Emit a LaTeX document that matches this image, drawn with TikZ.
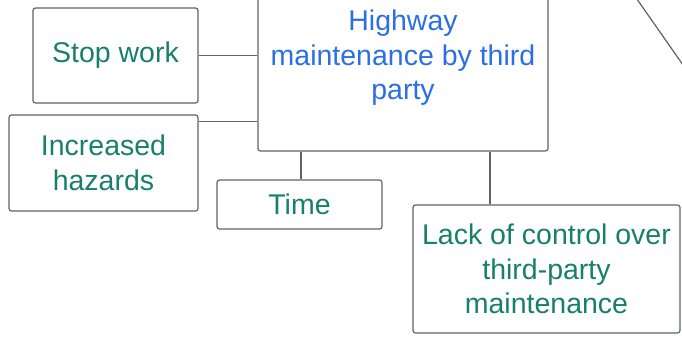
\documentclass[tikz,border=0pt]{standalone}
\usepackage{fontspec}
\setmainfont{Liberation Sans}
\definecolor{boxgreen}{HTML}{177F6B}
\definecolor{boxblue}{HTML}{2B6EE6}
\definecolor{linegrey}{HTML}{5F6368}
\tikzset{
  box/.style={draw=linegrey,line width=1.2pt,rounded corners=2.5pt,align=center,
    font=\fontsize{28.5}{34.5}\selectfont,text=boxgreen,inner sep=0pt},
  link/.style={draw=linegrey,line width=1.2pt}
}
\begin{document}
\begin{tikzpicture}[x=1pt,y=-1pt]
\useasboundingbox (0,0) rectangle (682,338);
\clip (0,0) rectangle (682,338);
\node[box,text=boxblue,minimum width=290,minimum height=186] (main) at (403,58) {Highway\\maintenance by third\\party};
\node[box,minimum width=165,minimum height=95] (stop) at (115.5,55.5) {Stop work};
\node[box,minimum width=189,minimum height=96] (hazards) at (103.5,163) {Increased\\hazards};
\node[box,minimum width=165,minimum height=49] (time) at (299.5,204.5) {Time};
\node[box,minimum width=267,minimum height=128] (lack) at (546.5,269) {Lack of control over\\third-party\\maintenance};
\coordinate (up) at (625,-18);
\coordinate (down) at (690,75);

\draw[link] (stop.east) -- (stop.east -| main.west);
\draw[link] ([yshift=-7]hazards.north east) -- ([yshift=-7]hazards.north east -| main.west);
\draw[link] ([xshift=1.5]time.north) -- ([xshift=1.5]time.north |- main.south);
\draw[link] ([xshift=-56.5]lack.north) -- ([xshift=-56.5]lack.north |- main.south);
\draw[link] (up) -- (down);
\end{tikzpicture}
\end{document}
